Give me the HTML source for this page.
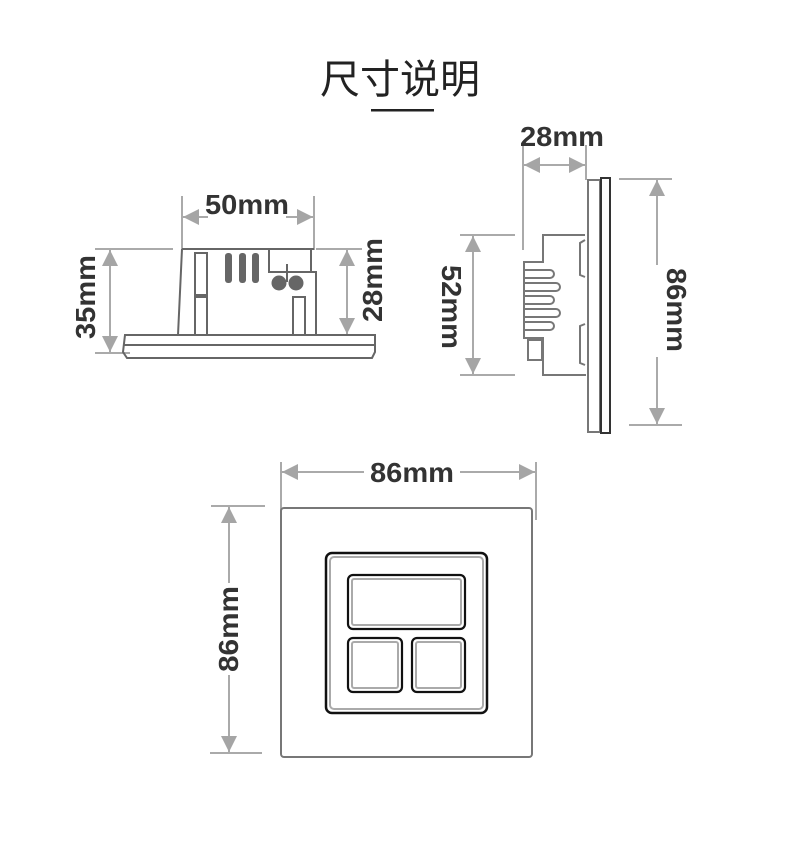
<!DOCTYPE html>
<html><head><meta charset="utf-8"><style>
html,body{margin:0;padding:0;background:#fff;}
svg{display:block;}
.t{font-family:"Liberation Sans","Noto Sans CJK SC",sans-serif;font-weight:bold;fill:#333;font-size:28px;}
</style></head><body>
<svg width="800" height="860" viewBox="0 0 800 860" xmlns="http://www.w3.org/2000/svg">
<defs>
<marker id="a" viewBox="0 0 16 16" refX="16" refY="8" markerWidth="16" markerHeight="16" markerUnits="userSpaceOnUse" orient="auto-start-reverse"><path d="M0,0 L16,8 L0,16 Z" fill="#a5a5a5"/></marker>
</defs>
<text x="400" y="93" text-anchor="middle" style="font-family:'Noto Sans CJK SC',sans-serif;font-size:40px;fill:#222;">尺寸说明</text>
<rect x="371" y="109" width="63" height="2.5" fill="#222"/>

<g stroke="#aaa" stroke-width="2" fill="none">
<line x1="182" y1="196" x2="182" y2="250"/><line x1="314" y1="196" x2="314" y2="250"/>
<line x1="183" y1="217" x2="313" y2="217" marker-start="url(#a)" marker-end="url(#a)"/>
<line x1="95" y1="249" x2="173" y2="249"/><line x1="95" y1="353" x2="130" y2="353"/>
<line x1="110" y1="250" x2="110" y2="352" marker-start="url(#a)" marker-end="url(#a)"/>
<line x1="316" y1="249" x2="362" y2="249"/>
<line x1="347" y1="250" x2="347" y2="334" marker-start="url(#a)" marker-end="url(#a)"/>
<line x1="523" y1="145" x2="523" y2="250"/><line x1="586" y1="145" x2="586" y2="180"/>
<line x1="524" y1="165" x2="585" y2="165" marker-start="url(#a)" marker-end="url(#a)"/>
<line x1="619" y1="179" x2="672" y2="179"/><line x1="629" y1="425" x2="682" y2="425"/>
<line x1="657" y1="180" x2="657" y2="424" marker-start="url(#a)" marker-end="url(#a)"/>
<line x1="460" y1="235" x2="515" y2="235"/><line x1="460" y1="375" x2="515" y2="375"/>
<line x1="473" y1="236" x2="473" y2="374" marker-start="url(#a)" marker-end="url(#a)"/>
<line x1="281" y1="462" x2="281" y2="530"/><line x1="536" y1="462" x2="536" y2="520"/>
<line x1="282" y1="472" x2="535" y2="472" marker-start="url(#a)" marker-end="url(#a)"/>
<line x1="211" y1="506" x2="265" y2="506"/><line x1="210" y1="753" x2="262" y2="753"/>
<line x1="229" y1="507" x2="229" y2="752" marker-start="url(#a)" marker-end="url(#a)"/>
</g>

<rect x="208" y="194" width="78" height="26" fill="#fff"/>
<text class="t" x="247" y="214" text-anchor="middle" textLength="84" lengthAdjust="spacingAndGlyphs">50mm</text>
<text class="t" transform="translate(95,297) rotate(-90)" text-anchor="middle" textLength="84" lengthAdjust="spacingAndGlyphs">35mm</text>
<text class="t" transform="translate(382,280) rotate(-90)" text-anchor="middle" textLength="84" lengthAdjust="spacingAndGlyphs">28mm</text>
<text class="t" x="562" y="146" text-anchor="middle" textLength="84" lengthAdjust="spacingAndGlyphs">28mm</text>
<rect x="436" y="260" width="32" height="92" fill="#fff"/>
<text class="t" transform="translate(442,307) rotate(90)" text-anchor="middle" textLength="84" lengthAdjust="spacingAndGlyphs">52mm</text>
<rect x="640" y="265" width="36" height="92" fill="#fff"/>
<text class="t" transform="translate(667,310) rotate(90)" text-anchor="middle" textLength="84" lengthAdjust="spacingAndGlyphs">86mm</text>
<rect x="364" y="458" width="96" height="28" fill="#fff"/>
<text class="t" x="412" y="482" text-anchor="middle" textLength="84" lengthAdjust="spacingAndGlyphs">86mm</text>
<rect x="212" y="583" width="34" height="92" fill="#fff"/>
<text class="t" transform="translate(238,629) rotate(-90)" text-anchor="middle" textLength="86" lengthAdjust="spacingAndGlyphs">86mm</text>

<g stroke="#666" stroke-width="2" fill="none">
<path d="M182,249 L314,249 M182,249 L178,335"/>
<rect x="269" y="249" width="42" height="23"/>
<path d="M269,272 L316,272 L316,335"/>
<line x1="287" y1="264" x2="287" y2="282"/>
<rect x="195" y="253" width="12" height="42"/>
<rect x="195" y="297" width="12" height="38"/>
<rect x="293" y="297" width="12" height="38"/>
<path d="M125,335 L375,335 L375,352 L372,358 L127,358 L123,352 Z"/>
<line x1="124" y1="345" x2="375" y2="345"/>
</g>
<g fill="#666">
<rect x="225" y="253" width="7" height="30" rx="3"/>
<rect x="239" y="253" width="7" height="30" rx="3"/>
<rect x="252" y="253" width="7" height="30" rx="3"/>
<circle cx="279" cy="283" r="7.5"/><circle cx="296" cy="283" r="7.5"/>
</g>

<g stroke="#777" stroke-width="2" fill="none">
<path d="M585,235 L543,235 L543,262 L524,262 L524,338 L543,338 L543,375 L586,375"/>
<rect x="528" y="340" width="14" height="20"/>
<path d="M524,270 L550,270 A4,4 0 0 1 550,278 L524,278 M524,283 L556,283 A4,4 0 0 1 556,291 L524,291 M524,296 L550,296 A4,4 0 0 1 550,304 L524,304 M524,309 L556,309 A4,4 0 0 1 556,317 L524,317 M524,322 L550,322 A4,4 0 0 1 550,330 L524,330"/>
<path d="M585,240 L580,243 L580,275 L585,277 M585,324 L580,326 L580,363 L585,365"/>
<path d="M588,180 L600,180 L600,432 L588,432 Z"/>
</g>
<rect x="601" y="178" width="9" height="255" fill="none" stroke="#333" stroke-width="2"/>

<rect x="281" y="508" width="251" height="249" rx="3" fill="none" stroke="#777" stroke-width="2"/>
<rect x="326" y="553" width="161" height="160" rx="6" fill="none" stroke="#111" stroke-width="2.5"/>
<rect x="330" y="557" width="153" height="152" rx="4" fill="none" stroke="#aaa" stroke-width="2"/>
<g fill="none">
<rect x="348" y="575" width="117" height="54" rx="5" stroke="#111" stroke-width="2.2"/>
<rect x="352" y="579" width="109" height="46" rx="2" stroke="#aaa" stroke-width="2"/>
<rect x="348" y="638" width="54" height="54" rx="5" stroke="#111" stroke-width="2.2"/>
<rect x="352" y="642" width="46" height="46" rx="2" stroke="#aaa" stroke-width="2"/>
<rect x="412" y="638" width="53" height="54" rx="5" stroke="#111" stroke-width="2.2"/>
<rect x="416" y="642" width="45" height="46" rx="2" stroke="#aaa" stroke-width="2"/>
</g>
</svg>
</body></html>
